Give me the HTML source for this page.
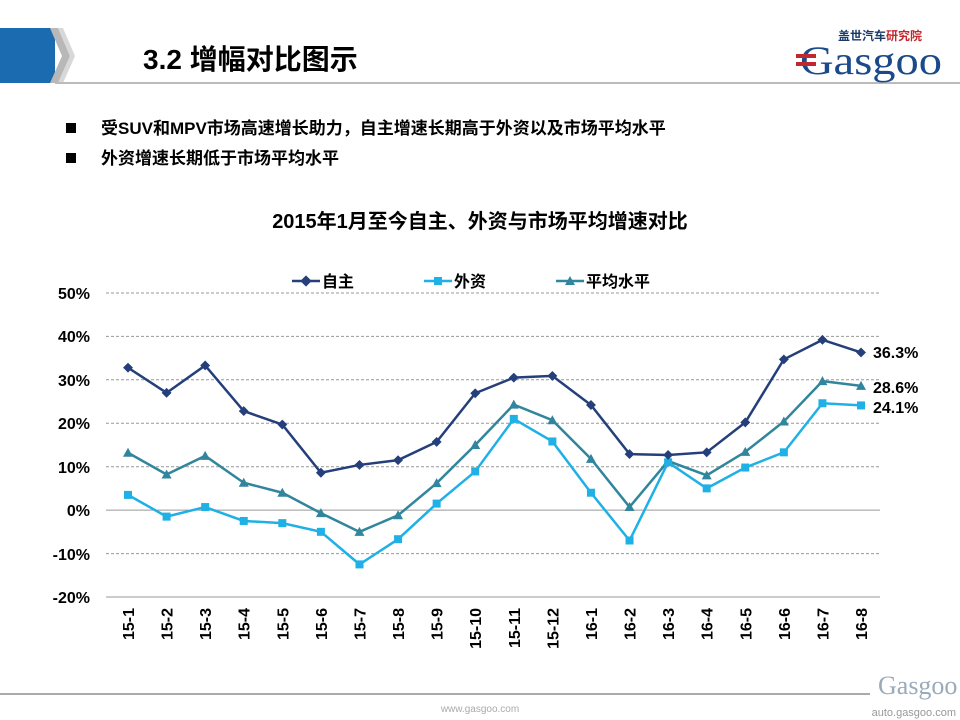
<!DOCTYPE html>
<html><head><meta charset="utf-8"><style>
body{margin:0;width:960px;height:720px;background:#fff;overflow:hidden;font-family:"Liberation Sans","Noto Sans CJK SC",sans-serif}
</style></head><body>
<svg width="960" height="720" xmlns="http://www.w3.org/2000/svg" style="position:absolute;left:0;top:0">
<rect x="0" y="28" width="55" height="55" fill="#1a6bb0"/>
<polygon points="50,28 58,28 70,56 58,83 50,83 62,56" fill="#b8b8b8"/>
<polygon points="58,28 63,28 75,56 63,83 58,83 70,56" fill="#d8d8d8"/>
<line x1="55" y1="83" x2="960" y2="83" stroke="#bbb" stroke-width="2"/>
<text x="143" y="69" font-size="28" font-weight="bold" fill="#000" font-family="Liberation Sans,Noto Sans CJK SC,sans-serif">3.2  增幅对比图示</text>
<text x="838" y="40" font-size="12" font-weight="bold" fill="#1a3a6a" font-family="Noto Sans CJK SC,sans-serif">盖世汽车<tspan fill="#c0282d">研究院</tspan></text>
<text x="800" y="74" font-size="40" fill="#1a4a8a" font-family="Liberation Serif,serif" textLength="142" lengthAdjust="spacingAndGlyphs">Gasgoo</text>
<rect x="796" y="54" width="20" height="4" fill="#c0282d"/><rect x="796" y="62" width="20" height="4" fill="#c0282d"/>
<rect x="66" y="123" width="10" height="10" fill="#000"/>
<text x="101" y="134" font-size="17" font-weight="bold" font-family="Liberation Sans,Noto Sans CJK SC,sans-serif">受SUV和MPV市场高速增长助力，自主增速长期高于外资以及市场平均水平</text>
<rect x="66" y="153" width="10" height="10" fill="#000"/>
<text x="101" y="164" font-size="17" font-weight="bold" font-family="Liberation Sans,Noto Sans CJK SC,sans-serif">外资增速长期低于市场平均水平</text>
<text x="480" y="228" font-size="20" font-weight="bold" text-anchor="middle" font-family="Liberation Sans,Noto Sans CJK SC,sans-serif">2015年1月至今自主、外资与市场平均增速对比</text>
<g stroke="#999" stroke-dasharray="3,2" stroke-width="1">
<line x1="106" y1="293" x2="880" y2="293"/><line x1="106" y1="336.4" x2="880" y2="336.4"/><line x1="106" y1="379.8" x2="880" y2="379.8"/><line x1="106" y1="423.3" x2="880" y2="423.3"/><line x1="106" y1="466.7" x2="880" y2="466.7"/><line x1="106" y1="553.6" x2="880" y2="553.6"/>
</g>
<line x1="106" y1="510.1" x2="880" y2="510.1" stroke="#999"/>
<line x1="106" y1="597" x2="880" y2="597" stroke="#999"/>
<g font-size="16" font-weight="bold" text-anchor="end" fill="#000">
<text x="90" y="299">50%</text><text x="90" y="342">40%</text><text x="90" y="386">30%</text><text x="90" y="429">20%</text><text x="90" y="473">10%</text><text x="90" y="516">0%</text><text x="90" y="560">-10%</text><text x="90" y="603">-20%</text>
</g>
<g id="xl" font-size="16" font-weight="bold" text-anchor="end"></g>
<g id="series"></g>
<g font-size="16" font-weight="bold">
<line x1="292" y1="281" x2="320" y2="281" stroke="#243F7A" stroke-width="2.5"/><rect x="302" y="277" width="8" height="8" fill="#243F7A" transform="rotate(45 306 281)"/><text x="322" y="287">自主</text>
<line x1="424" y1="281" x2="452" y2="281" stroke="#1FB0E6" stroke-width="2.5"/><rect x="434" y="277" width="8" height="8" fill="#1FB0E6"/><text x="454" y="287">外资</text>
<line x1="556" y1="281" x2="584" y2="281" stroke="#31859C" stroke-width="2.5"/><polygon points="570,276 575,285 565,285" fill="#31859C"/><text x="586" y="287">平均水平</text>
<text x="873" y="358">36.3%</text><text x="873" y="393">28.6%</text><text x="873" y="413">24.1%</text>
</g>
<line x1="0" y1="694" x2="870" y2="694" stroke="#aaa" stroke-width="2"/>
<text x="480" y="712" font-size="10" fill="#aaa" text-anchor="middle">www.gasgoo.com</text>
<text x="878" y="694" font-size="26" fill="#9ab" font-family="Liberation Serif,serif">Gasgoo</text>
<text x="956" y="716" font-size="11" fill="#999" text-anchor="end">auto.gasgoo.com</text>
</svg>
<script>
var labs=["15-1","15-2","15-3","15-4","15-5","15-6","15-7","15-8","15-9","15-10","15-11","15-12","16-1","16-2","16-3","16-4","16-5","16-6","16-7","16-8"];
var A=[32.8,27,33.3,22.8,19.7,8.6,10.4,11.5,15.7,26.9,30.5,30.9,24.2,12.9,12.7,13.3,20.2,34.7,39.2,36.3];
var B=[3.5,-1.5,0.7,-2.5,-3,-5,-12.5,-6.7,1.5,8.9,21,15.8,4,-7,11,5,9.8,13.3,24.6,24.1];
var C=[13.2,8.2,12.5,6.3,4,-0.7,-5,-1.2,6.2,15,24.3,20.7,11.8,0.7,11.3,8,13.4,20.4,29.7,28.6];
var ns="http://www.w3.org/2000/svg";
function X(i){return 128+i*38.58}function Y(v){return 510.1-v*4.343}
var xl=document.getElementById("xl"),s=document.getElementById("series");
labs.forEach(function(l,i){var t=document.createElementNS(ns,"text");t.setAttribute("transform","translate("+(X(i)+6)+",608) rotate(-90)");t.textContent=l;xl.appendChild(t)});
function draw(d,c,m){var p=d.map(function(v,i){return X(i)+","+Y(v)}).join(" ");var pl=document.createElementNS(ns,"polyline");pl.setAttribute("points",p);pl.setAttribute("fill","none");pl.setAttribute("stroke",c);pl.setAttribute("stroke-width","2.5");s.appendChild(pl);
d.forEach(function(v,i){var x=X(i),y=Y(v),e;if(m==0){e=document.createElementNS(ns,"rect");e.setAttribute("x",x-3.5);e.setAttribute("y",y-3.5);e.setAttribute("width",7);e.setAttribute("height",7);e.setAttribute("transform","rotate(45 "+x+" "+y+")")}else if(m==1){e=document.createElementNS(ns,"rect");e.setAttribute("x",x-4);e.setAttribute("y",y-4);e.setAttribute("width",8);e.setAttribute("height",8)}else{e=document.createElementNS(ns,"polygon");e.setAttribute("points",x+","+(y-5)+" "+(x+5)+","+(y+4)+" "+(x-5)+","+(y+4))}e.setAttribute("fill",c);s.appendChild(e)})}
draw(C,"#31859C",2);draw(B,"#1FB0E6",1);draw(A,"#243F7A",0);
</script>
</body></html>
